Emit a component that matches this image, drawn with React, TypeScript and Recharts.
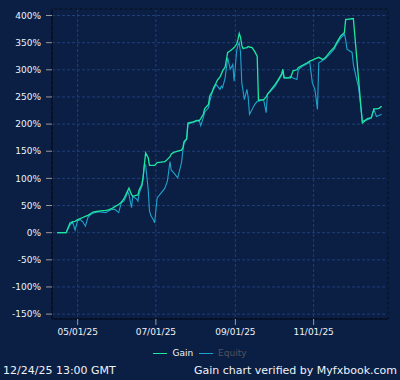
import { CartesianGrid, Line, LineChart, ReferenceArea, XAxis, YAxis } from "recharts";

const dates = [
  "2025-04-15", "2025-04-22", "2025-04-25", "2025-04-27", "2025-04-29", "2025-05-01", "2025-05-03", "2025-05-05",
  "2025-05-07", "2025-05-09", "2025-05-11", "2025-05-13", "2025-05-16", "2025-05-19", "2025-05-23", "2025-05-25",
  "2025-05-28", "2025-05-30", "2025-06-02", "2025-06-04", "2025-06-06", "2025-06-08", "2025-06-09", "2025-06-10",
  "2025-06-12", "2025-06-13", "2025-06-16", "2025-06-17", "2025-06-18", "2025-06-20", "2025-06-21", "2025-06-22",
  "2025-06-23", "2025-06-25", "2025-06-26", "2025-06-27", "2025-06-29", "2025-06-30", "2025-07-02", "2025-07-05",
  "2025-07-08", "2025-07-10", "2025-07-12", "2025-07-13", "2025-07-15", "2025-07-18", "2025-07-21", "2025-07-22",
  "2025-07-23", "2025-07-25", "2025-07-26", "2025-07-30", "2025-08-02", "2025-08-04", "2025-08-05", "2025-08-07",
  "2025-08-08", "2025-08-11", "2025-08-12", "2025-08-14", "2025-08-15", "2025-08-17", "2025-08-18", "2025-08-20",
  "2025-08-21", "2025-08-22", "2025-08-24", "2025-08-26", "2025-08-28", "2025-08-30", "2025-08-31", "2025-09-02",
  "2025-09-03", "2025-09-04", "2025-09-05", "2025-09-06", "2025-09-07", "2025-09-08", "2025-09-10", "2025-09-11",
  "2025-09-12", "2025-09-14", "2025-09-16", "2025-09-18", "2025-09-19", "2025-09-23", "2025-09-25", "2025-09-26",
  "2025-09-29", "2025-10-02", "2025-10-04", "2025-10-07", "2025-10-08", "2025-10-09", "2025-10-12", "2025-10-14",
  "2025-10-16", "2025-10-19", "2025-10-20", "2025-10-23", "2025-10-27", "2025-10-29", "2025-10-31", "2025-11-02",
  "2025-11-04", "2025-11-05", "2025-11-08", "2025-11-10", "2025-11-14", "2025-11-17", "2025-11-19", "2025-11-22",
  "2025-11-25", "2025-11-26", "2025-11-27", "2025-12-01", "2025-12-02", "2025-12-04", "2025-12-06", "2025-12-09",
  "2025-12-13", "2025-12-16", "2025-12-18", "2025-12-20", "2025-12-22", "2025-12-24",
];

const gain: (number | null)[] = [
  0, 0, 18, 20, 21, 24, 26, 28, 30, 32, 35, 38, 39, 40, 41, 42,
  45, 48, 52, 56, 62, 72, 77, 82, 70, 67, 69, 69, 79, 88, 101, 125,
  147, 138, 124, 124, 124, 124, 129, 130, 131, 135, 140, 145, 148, 150,
  152, 156, 168, 173, 202, 204, 207, 207, 210, 218, 228, 236, 252, 260,
  267, 276, 281, 287, 292, 298, 305, 332, 335, 339, 341, 347, 356, 367,
  360, 345, 339, 340, 341, 343, 342, 341, 334, 325, 244, 245, 250, 255,
  264, 273, 280, 292, 301, 285, 285, 285, 298, 300, 304, 308, 313, 316,
  318, 320, 322, 323, 319, 322, 334, 341, 350, 362, 369, 393, 393, 394,
  394, null, null, 202, 210, 212, 228, 228, 229, 233,
];

const equity = [
  0, 0, 14, 20, 5, 22, 24, 20, 12, 28, 33, 36, 38, 38, 37, 40,
  43, 43, 37, 55, 58, 68, 76, 70, 46, 67, 62, 58, 73, 85, 98, 125,
  125, 80, 40, 32, 24, 18, 64, 73, 82, 95, 131, 115, 110, 101,
  129, 150, 165, 172, 200, 203, 206, 205, 197, 212, 222, 230, 242, 259,
  264, 273, 270, 264, 270, 267, 285, 322, 301, 310, 279, 335, 345, 350,
  332, 276, 261, 245, 264, 249, 218, 227, 236, 242, 242, 245, 221, 255,
  262, 270, 278, 290, 297, 285, 285, 288, 285, 282, 300, 306, 311, 314,
  276, 264, 227, 313, 317, 320, 330, 338, 347, 358, 366, 355, 338, 332,
  310, 288, 268, 206, 208, 211, 227, 214, 216, 218,
];

const yTicks = [-150, -100, -50, 0, 50, 100, 150, 200, 250, 300, 350, 400];
const xTickDates = ["2025-05-01", "2025-07-01", "2025-09-01", "2025-11-01"];

const toTime = (s: string) => {
  const [y, m, d] = s.split("-").map(Number);
  return Date.UTC(y, m - 1, d);
};

const data = dates.map((d, i) => ({ t: toTime(d), gain: gain[i], equity: equity[i] }));
const xDomain = [toTime("2025-04-11"), toTime("2025-12-29")];
const yDomain = [-159, 412];

const fmtDate = (v: number) => {
  const d = new Date(v);
  const p = (n: number) => String(n).padStart(2, "0");
  return `${p(d.getUTCMonth() + 1)}/${p(d.getUTCDate())}/${String(d.getUTCFullYear()).slice(2)}`;
};

const BG = "#0b1f44";
const GAIN = "#1ee8a0";
const EQUITY = "#1ea3cc";
const FONT = "'DejaVu Sans', sans-serif";

export default function App() {
  return (
    <div style={{ position: "absolute", left: 0, top: 0, width: 400, height: 380, background: BG, fontFamily: FONT }}>
      <LineChart width={400} height={380} data={data} margin={{ top: 9, right: 12, bottom: 31, left: 0 }}>
        <CartesianGrid stroke="#1f3f77" strokeDasharray="3 2" />
        <XAxis
          dataKey="t"
          type="number"
          domain={xDomain}
          allowDataOverflow
          ticks={xTickDates.map(toTime)}
          tickFormatter={fmtDate}
          height={30}
          tickSize={6}
          tickMargin={4}
          tick={{ fill: "#eef2f8", fontSize: 9, fontFamily: FONT }}
          tickLine={{ stroke: "#9a9a9a" }}
          axisLine={{ stroke: "#040c1c" }}
        />
        <YAxis
          type="number"
          domain={yDomain}
          allowDataOverflow
          ticks={yTicks}
          tickFormatter={(v: number) => `${v}%`}
          width={52}
          tickSize={6}
          tickMargin={5}
          tick={{ fill: "#eef2f8", fontSize: 9, fontFamily: FONT }}
          tickLine={{ stroke: "#9a9a9a" }}
          axisLine={{ stroke: "#040c1c" }}
        />
        <ReferenceArea
          x1={xDomain[0]}
          x2={xDomain[1]}
          y1={yDomain[0]}
          y2={yDomain[1]}
          fill="none"
          stroke="#040c1c"
          strokeWidth={1}
        />
        <Line type="linear" dataKey="equity" stroke={EQUITY} strokeWidth={1.1} dot={false} isAnimationActive={false} />
        <Line
          type="linear"
          dataKey="gain"
          stroke={GAIN}
          strokeWidth={1.3}
          dot={false}
          connectNulls
          isAnimationActive={false}
        />
      </LineChart>

      <div style={{ position: "absolute", top: 347, left: 0, width: 400, display: "flex", justifyContent: "center", fontSize: 9, lineHeight: "12px" }}>
        <span style={{ display: "flex", alignItems: "center", marginRight: 6 }}>
          <span style={{ width: 14, height: 1, background: GAIN, marginRight: 5 }} />
          <span style={{ color: "#eef2f8" }}>Gain</span>
        </span>
        <span style={{ display: "flex", alignItems: "center" }}>
          <span style={{ width: 14, height: 1, background: EQUITY, marginRight: 5 }} />
          <span style={{ color: "#4f5560" }}>Equity</span>
        </span>
      </div>

      <div style={{ position: "absolute", top: 364, left: 3, fontSize: 11, color: "#eef2f8", whiteSpace: "nowrap" }}>
        12/24/25 13:00 GMT
      </div>
      <div style={{ position: "absolute", top: 364, right: 3, fontSize: 11, color: "#eef2f8", whiteSpace: "nowrap" }}>
        Gain chart verified by Myfxbook.com
      </div>
    </div>
  );
}
